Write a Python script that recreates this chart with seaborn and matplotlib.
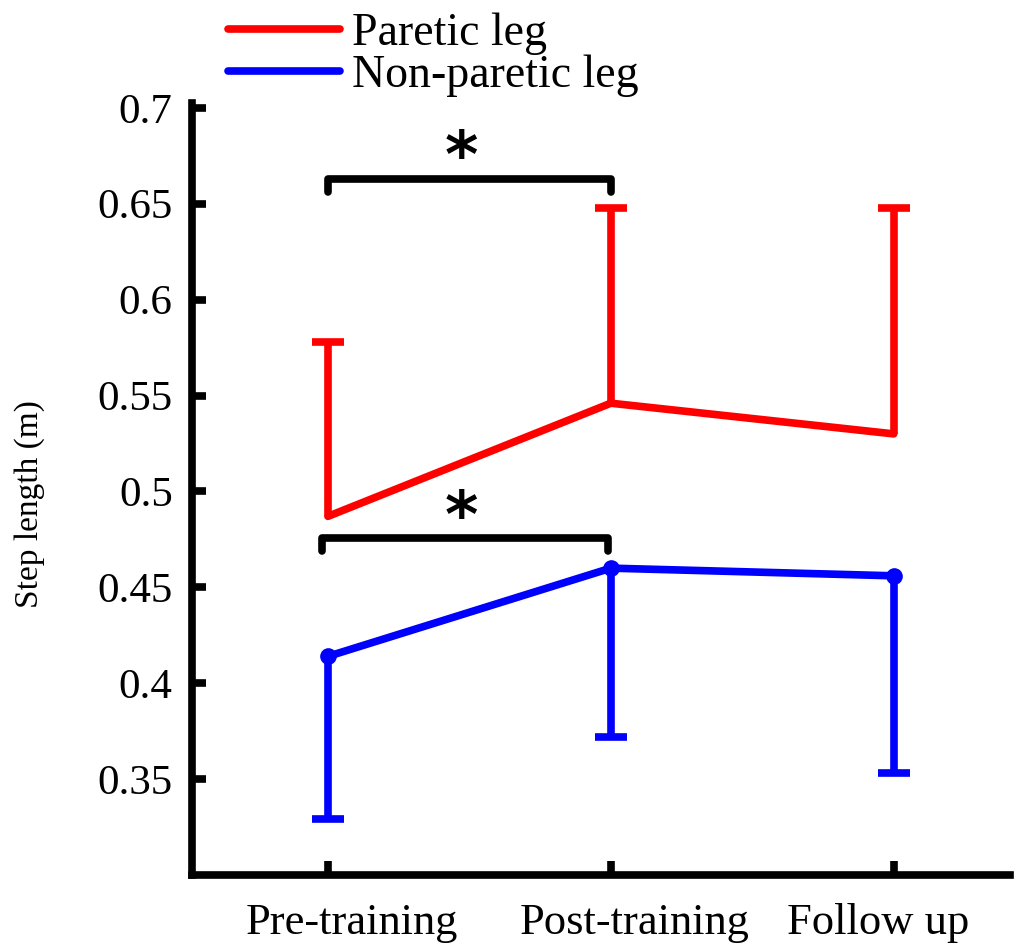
import pandas as pd
import matplotlib.pyplot as plt
import matplotlib.transforms as mtransforms
import seaborn as sns
from matplotlib.lines import Line2D

# data
phases = ['Pre-training', 'Post-training', 'Follow up']
paretic_mean = [0.487, 0.546, 0.530]
paretic_upper = [0.578, 0.648, 0.648]
nonparetic_mean = [0.414, 0.460, 0.456]
nonparetic_lower = [0.329, 0.372, 0.353]

sns.set_theme(style='ticks')
plt.rcParams['font.family'] = ['Liberation Serif', 'DejaVu Serif']
plt.rcParams['text.color'] = 'black'

xs = list(range(3))
df_p = pd.DataFrame({'x': xs, 'step': paretic_mean})
df_n = pd.DataFrame({'x': xs, 'step': nonparetic_mean})

LW = 5.5

fig = plt.figure(figsize=(10.22, 9.47), dpi=100)
ax = fig.add_axes([0.188, 0.076, 0.80, 0.815])

sns.lineplot(data=df_p, x='x', y='step', color='#ff0000', linewidth=LW, ax=ax)
sns.lineplot(data=df_n, x='x', y='step', color='#0000ff', linewidth=LW,
             marker='o', markersize=12, markeredgewidth=0, ax=ax)

# one-sided error bars (hide the cap on the mean side)
up = [u - m for u, m in zip(paretic_upper, paretic_mean)]
lo = [m - l for l, m in zip(nonparetic_lower, nonparetic_mean)]
eb = ax.errorbar(xs, paretic_mean, yerr=[[0, 0, 0], up], fmt='none', ecolor='#ff0000',
                 elinewidth=LW, capsize=11.5, capthick=LW)
eb[1][0].set_visible(False)
eb = ax.errorbar(xs, nonparetic_mean, yerr=[lo, [0, 0, 0]], fmt='none', ecolor='#0000ff',
                 elinewidth=LW, capsize=11.5, capthick=LW)
eb[1][1].set_visible(False)

# significance brackets
ax.plot([0, 0, 1, 1], [0.656, 0.663, 0.663, 0.656], color='black', lw=LW)
ax.text(0.47, 0.657, '*', fontsize=46, ha='center', va='bottom', fontweight='bold',
        family='DejaVu Sans', color='black')
ax.plot([-0.02, -0.02, 0.99, 0.99], [0.469, 0.4755, 0.4755, 0.469], color='black', lw=LW)
ax.text(0.47, 0.4696, '*', fontsize=46, ha='center', va='bottom', fontweight='bold',
        family='DejaVu Sans', color='black')

ax.set_xlim(-0.48, 2.41)
ax.set_ylim(0.3, 0.7024)
ax.set_xticks(xs)
ax.set_xticklabels(phases, fontsize=32)
ax.set_yticks([0.35, 0.4, 0.45, 0.5, 0.55, 0.6, 0.65, 0.7])
ax.set_yticklabels(['0.35', '0.4', '0.45', '0.5', '0.55', '0.6', '0.65', '0.7'], fontsize=31)
ax.set_xlabel('')
ax.set_ylabel('Step length (m)', fontsize=24, color='black')
ax.yaxis.set_label_coords(-0.18, 0.48)
sns.despine(ax=ax)
for s in ['left', 'bottom']:
    ax.spines[s].set_linewidth(LW)
    ax.spines[s].set_color('black')
ax.tick_params(axis='both', direction='in', length=10, width=LW, colors='black',
               labelcolor='black')
ax.tick_params(axis='y', pad=14)
ax.tick_params(axis='x', pad=20)

# the original labels sit a little off their ticks
for lab, dx in zip(ax.get_xticklabels(), [24, 24, -16]):
    lab.set_transform(lab.get_transform() +
                      mtransforms.ScaledTranslation(dx / 100, 0, fig.dpi_scale_trans))

handles = [Line2D([], [], color='#ff0000', lw=LW),
           Line2D([], [], color='#0000ff', lw=LW)]
fig.legend(handles, ['Paretic leg', 'Non-paretic leg'], loc='upper left',
           bbox_to_anchor=(0.205, 1.0066), borderaxespad=0, frameon=False, fontsize=33,
           handlelength=2.45, handletextpad=0.26, labelspacing=0.0, labelcolor='black')

plt.savefig('out.png', dpi=100)
